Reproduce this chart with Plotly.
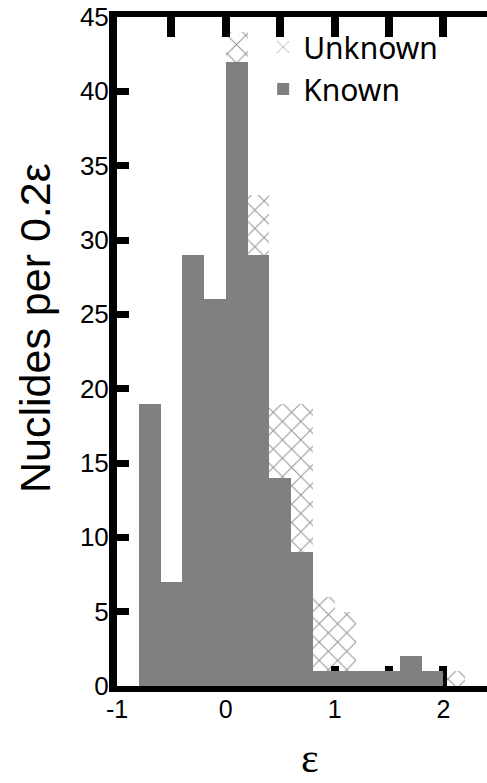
import plotly.graph_objects as go

# Bin left edges (width 0.2 in epsilon)
bin_left = [-1.0, -0.8, -0.6, -0.4, -0.2, 0.0, 0.2, 0.4, 0.6, 0.8, 1.0, 1.2, 1.4, 1.6, 1.8, 2.0, 2.2]
known    = [0, 19, 7, 29, 26, 42, 29, 14, 9, 1, 1, 1, 1, 2, 1, 0, 0]
unknown  = [0, 0, 0, 0, 0, 2, 4, 5, 10, 5, 4, 0, 0, 0, 0, 1, 0]

bin_width = 0.2
x_tickvals = [-1, -0.5, 0, 0.5, 1, 1.5, 2]
x_ticktext = ["-1", "", "0", "", "1", "", "2"]
y_tickvals = [0, 5, 10, 15, 20, 25, 30, 35, 40, 45]

fig = go.Figure()
fig.add_trace(go.Bar(
    x=bin_left, y=known, width=bin_width, offset=0, name="Known",
    marker=dict(color="#808080", line=dict(width=0)),
))
fig.add_trace(go.Bar(
    x=bin_left, y=unknown, width=bin_width, offset=0, name="Unknown",
    marker=dict(color="rgba(0,0,0,0)", line=dict(width=0),
                pattern=dict(shape="x", bgcolor="rgba(0,0,0,0)", fgcolor="#2a2a2a",
                             size=13, solidity=0.15)),
))

W, H = 487, 783
L, R, T, B = 117, 0, 17, 97
PW, PH = W - L - R, H - T - B

fig.update_layout(
    width=W, height=H,
    margin=dict(l=L, r=R, t=T, b=B),
    paper_bgcolor="white", plot_bgcolor="white",
    barmode="stack",
    showlegend=True,
    legend=dict(x=0.395, y=(H - B - 21) / PH, xanchor="left", yanchor="top",
                bgcolor="rgba(0,0,0,0)",
                font=dict(family="Noto Sans", size=30, color="black")),
    font=dict(family="Liberation Sans", color="black"),
    xaxis=dict(range=[-1, 2.4], showgrid=False, zeroline=False,
               showline=True, linewidth=6, linecolor="black", mirror="ticks",
               ticks="inside", ticklen=20, tickwidth=8, tickcolor="black",
               tickvals=x_tickvals, ticktext=x_ticktext,
               ticklabelstandoff=-4,
               tickfont=dict(family="Liberation Sans", size=25, color="black"),
               layer="below traces"),
    yaxis=dict(range=[0, 45], showgrid=False, zeroline=False,
               showline=True, linewidth=8, linecolor="black",
               ticks="inside", ticklen=12, tickwidth=7, tickcolor="black",
               tickvals=y_tickvals, ticklabelstandoff=-5,
               tickfont=dict(family="Liberation Sans", size=26, color="black")),
    yaxis2=dict(range=[0, 45], overlaying="y", side="right", anchor="x",
                showgrid=False, zeroline=False, showline=False,
                ticks="inside", ticklen=5, tickwidth=5, tickcolor="black",
                tickvals=y_tickvals, showticklabels=False),
    annotations=[
        dict(text="Nuclides per 0.2ε", textangle=-90, showarrow=False,
             xref="paper", yref="paper",
             x=(35 - L) / PW, y=(H - B - 328) / PH,
             xanchor="center", yanchor="middle",
             font=dict(family="Liberation Sans", size=43, color="black")),
        dict(text="ε", showarrow=False, xref="paper", yref="paper",
             x=(310 - L) / PW, y=(H - B - H + 1) / PH,
             xanchor="center", yanchor="bottom", borderpad=0,
             font=dict(family="Liberation Serif", size=42, color="black")),
    ],
)

fig.write_html("out.html")
